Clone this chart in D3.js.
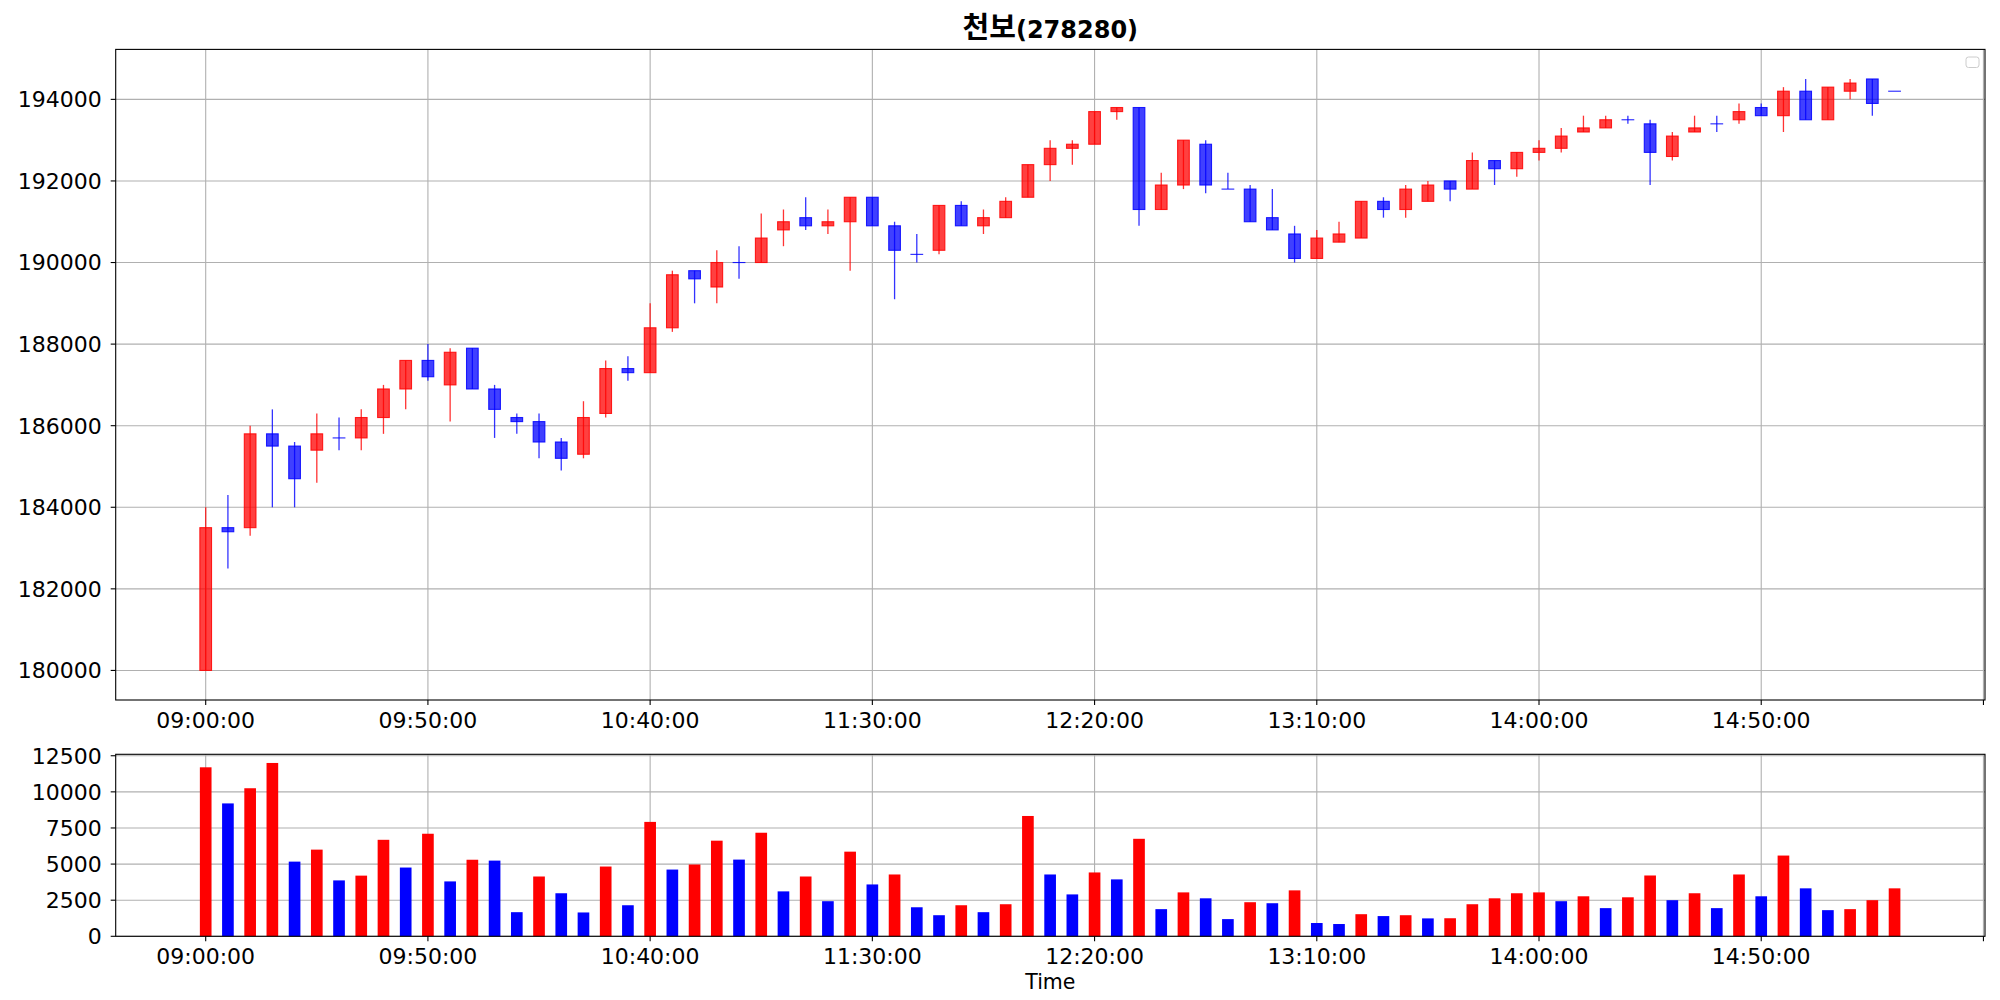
<!DOCTYPE html>
<html><head><meta charset="utf-8">
<script src="https://cdn.jsdelivr.net/npm/d3@7"></script>
<style>body{margin:0;background:#fff}svg{display:block}</style>
</head><body><svg id="c" width="2000" height="1000"></svg>
<script>
const times = ["09:00","09:05","09:10","09:15","09:20","09:25","09:30","09:35","09:40","09:45",
"09:50","09:55","10:00","10:05","10:10","10:15","10:20","10:25","10:30","10:35",
"10:40","10:45","10:50","10:55","11:00","11:05","11:10","11:15","11:20","11:25",
"11:30","11:35","11:40","11:45","11:50","11:55","12:00","12:05","12:10","12:15",
"12:20","12:25","12:30","12:35","12:40","12:45","12:50","12:55","13:00","13:05",
"13:10","13:15","13:20","13:25","13:30","13:35","13:40","13:45","13:50","13:55",
"14:00","14:05","14:10","14:15","14:20","14:25","14:30","14:35","14:40","14:45",
"14:50","14:55","15:00","15:05","15:10","15:15","15:20"];
const openP = [180000,183500,183500,185800,185500,185400,185700,185700,186200,186900,
187600,187000,187900,186900,186200,186100,185600,185300,186300,187400,
187300,188400,189800,189400,190000,190000,190800,191100,190900,191000,
191600,190900,190200,190300,191400,190900,191100,191600,192400,192800,
192900,193700,193800,191300,191900,192900,191800,191800,191100,190700,
190100,190500,190600,191500,191300,191500,192000,191800,192500,192300,
192700,192800,193200,193300,193500,193400,192600,193200,193400,193500,
193800,193600,194200,193500,194200,194500,194200];
const highP = [184000,184300,186000,186400,185600,186300,186200,186400,187000,187600,
188000,187900,187900,187000,186300,186300,185700,186600,187600,187700,
189000,189800,189800,190300,190400,191200,191300,191600,191300,191600,
191600,191000,190700,191400,191500,191300,191600,192400,193000,193000,
193700,193800,193800,192200,193000,193000,192200,191900,191800,190900,
190800,191000,191500,191600,191900,192000,192000,192700,192500,192700,
193000,193300,193600,193600,193600,193500,193200,193600,193600,193900,
193900,194300,194500,194300,194500,194500,194200];
const lowP = [180000,182500,183300,184000,184000,184600,185400,185400,185800,186400,
187100,186100,186900,185700,185800,185200,184900,185200,186200,187100,
187300,188300,189000,189000,189600,190000,190400,190800,190700,189800,
190900,189100,190000,190200,190900,190700,191100,191600,192000,192400,
192900,193500,190900,191300,191800,191700,191800,191000,190800,190000,
190100,190500,190600,191100,191100,191500,191500,191800,191900,192100,
192500,192700,193200,193300,193400,191900,192500,193200,193200,193400,
193600,193200,193500,193500,194000,193600,194200];
const closeP = [183500,183400,185800,185500,184700,185800,185700,186200,186900,187600,
187200,187800,186900,186400,186100,185600,185200,186200,187400,187300,
188400,189700,189600,190000,190000,190600,191000,190900,191000,191600,
190900,190300,190200,191400,190900,191100,191500,192400,192800,192900,
193700,193800,191300,191900,193000,191900,191800,191000,190800,190100,
190600,190700,191500,191300,191800,191900,191800,192500,192300,192700,
192800,193100,193300,193500,193500,192700,193100,193300,193400,193700,
193600,194200,193500,194300,194400,193900,194200];
const volume = [11700,9200,10250,12000,5170,6000,3870,4200,6680,4760,
7100,3800,5300,5240,1670,4140,2980,1650,4830,2150,
7920,4620,4970,6620,5310,7170,3110,4140,2430,5860,
3590,4280,2010,1460,2150,1670,2220,8330,4280,2900,
4420,3940,6750,1880,3040,2630,1190,2360,2290,3180,
920,850,1530,1400,1460,1240,1250,2220,2630,2980,
3040,2430,2770,1950,2700,4210,2500,2980,1950,4280,
2770,5590,3320,1810,1880,2500,3320];
const priceTicks = [180000,182000,184000,186000,188000,190000,192000,194000];
const volTicks = [0,2500,5000,7500,10000,12500];
const xTickPos = [0,10,20,30,40,50,60,70,80];
const xTickLabels = ["09:00:00","09:50:00","10:40:00","11:30:00","12:20:00","13:10:00","14:00:00","14:50:00",""];
const titleName = "천보";
const titleCode = "(278280)";

const RED = "#ff0000", BLUE = "#0000ff", GRID = "#b0b0b0";
const FONT = "'DejaVu Sans', 'Noto Sans CJK KR', sans-serif";
const L = 115.7, R = 1985;
const P = {top: 49.4, bottom: 700};
const V = {top: 754.3, bottom: 936.3};

const svg = d3.select("#c");
svg.append("rect").attr("width",2000).attr("height",1000).attr("fill","#fff");

const x = d3.scaleLinear().domain([-4.05, 80.07]).range([L, R]);
const step = x(1) - x(0);
const bw = step * 0.525;

const lo = d3.min(lowP), hi = d3.max(highP), pad = (hi - lo) * 0.05;
const yP = d3.scaleLinear().domain([lo - pad, hi + pad]).range([P.bottom, P.top]);
const yV = d3.scaleLinear().domain([0, d3.max(volume) * 1.05]).range([V.bottom, V.top]);

const data = times.map((t, i) => ({i, t, o: openP[i], h: highP[i], l: lowP[i], c: closeP[i], v: volume[i]}));

function panel(top, bottom, yScale, ticks) {
  const g = svg.append("g");
  g.selectAll(".gy").data(ticks).join("line")
    .attr("x1", L).attr("x2", R).attr("y1", d => yScale(d)).attr("y2", d => yScale(d))
    .attr("stroke", GRID).attr("stroke-width", 1.1);
  g.selectAll(".gx").data(xTickPos).join("line")
    .attr("x1", d => x(d)).attr("x2", d => x(d)).attr("y1", top).attr("y2", bottom)
    .attr("stroke", GRID).attr("stroke-width", 1.1);
  return g;
}
function frame(top, bottom, yScale, ticks) {
  const g = svg.append("g");
  g.append("rect").attr("x", L).attr("y", top).attr("width", R - L).attr("height", bottom - top)
    .attr("fill", "none").attr("stroke", "#000").attr("stroke-width", 1.1);
  g.selectAll(".ty").data(ticks).join("line")
    .attr("x1", L - 5).attr("x2", L).attr("y1", d => yScale(d)).attr("y2", d => yScale(d))
    .attr("stroke", "#000").attr("stroke-width", 1.1);
  g.selectAll(".tl").data(ticks).join("text")
    .attr("x", L - 14).attr("y", d => yScale(d)).attr("dy", "0.36em")
    .attr("text-anchor", "end").attr("font-family", FONT).attr("font-size", 22)
    .text(d => d);
  g.selectAll(".tx").data(xTickPos).join("line")
    .attr("x1", d => x(d)).attr("x2", d => x(d)).attr("y1", bottom).attr("y2", bottom + 5)
    .attr("stroke", "#000").attr("stroke-width", 1.1);
  g.selectAll(".xl").data(xTickPos).join("text")
    .attr("x", d => x(d)).attr("y", bottom + 27.5)
    .attr("text-anchor", "middle").attr("font-family", FONT).attr("font-size", 22)
    .text((d, k) => xTickLabels[k]);
}

// price panel
const gp = panel(P.top, P.bottom, yP, priceTicks);
const col = d => d.c > d.o ? RED : BLUE;
gp.selectAll(".wick").data(data).join("line")
  .attr("x1", d => x(d.i)).attr("x2", d => x(d.i))
  .attr("y1", d => yP(d.h)).attr("y2", d => yP(d.l))
  .attr("stroke", col).attr("stroke-opacity", 0.8).attr("stroke-width", 1.3);
gp.selectAll(".body").data(data).join("rect")
  .attr("x", d => x(d.i) - bw / 2).attr("width", bw)
  .attr("y", d => yP(Math.max(d.o, d.c)))
  .attr("height", d => Math.max(Math.abs(yP(d.o) - yP(d.c)), 0.01))
  .attr("fill", col).attr("fill-opacity", 0.75)
  .attr("stroke", col).attr("stroke-opacity", 0.85).attr("stroke-width", 1.1);
frame(P.top, P.bottom, yP, priceTicks);

// empty legend box
svg.append("rect").attr("x", 1966).attr("y", 57).attr("width", 13).attr("height", 10.5)
  .attr("rx", 2.5).attr("fill", "#fff").attr("fill-opacity", 0.8)
  .attr("stroke", "#cccccc").attr("stroke-width", 1);

// volume panel
const gv = panel(V.top, V.bottom, yV, volTicks);
gv.selectAll(".vb").data(data).join("rect")
  .attr("x", d => x(d.i) - bw / 2).attr("width", bw)
  .attr("y", d => yV(d.v)).attr("height", d => yV(0) - yV(d.v))
  .attr("fill", d => (d.i === 0 || d.v > volume[d.i - 1]) ? RED : BLUE);
frame(V.top, V.bottom, yV, volTicks);

// title & axis label
const title = svg.append("text").attr("x", (L + R) / 2).attr("y", 38)
  .attr("text-anchor", "middle").attr("font-family", FONT).attr("font-weight", "bold");
title.append("tspan").attr("font-size", 29).attr("font-family", "'Noto Sans CJK KR', sans-serif").text(titleName);
title.append("tspan").attr("font-size", 24).text(titleCode);

svg.append("text").attr("x", (L + R) / 2).attr("y", 989)
  .attr("text-anchor", "middle").attr("font-family", FONT).attr("font-size", 20.5)
  .text("Time");
</script></body></html>
